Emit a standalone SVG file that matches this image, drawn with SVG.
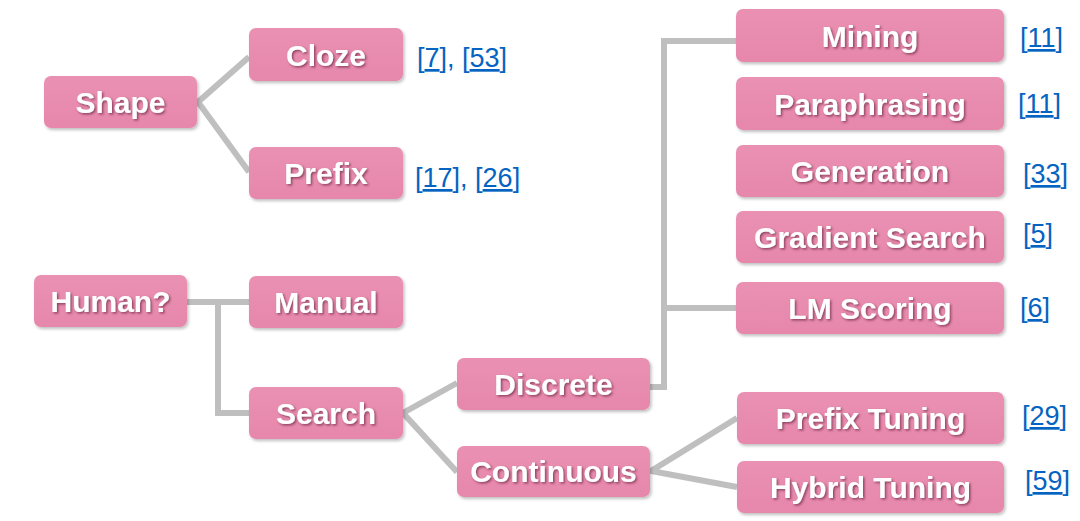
<svg xmlns="http://www.w3.org/2000/svg" width="1080" height="521" viewBox="0 0 1080 521">
<defs>
<filter id="boxsh" x="-10%" y="-20%" width="125%" height="150%">
<feDropShadow dx="1.5" dy="2" stdDeviation="1.5" flood-color="#000" flood-opacity="0.25"/>
</filter>
<filter id="txtsh" x="-10%" y="-20%" width="125%" height="150%">
<feDropShadow dx="1.5" dy="1.5" stdDeviation="1" flood-color="#6a2040" flood-opacity="0.7"/>
</filter>
<linearGradient id="pink" x1="0" y1="0" x2="0" y2="1">
<stop offset="0" stop-color="#EA91B3"/>
<stop offset="1" stop-color="#E687AB"/>
</linearGradient>
</defs>
<style>
.box{fill:url(#pink);filter:url(#boxsh);}
.lbl{font-family:"Liberation Sans",Arial,sans-serif;font-weight:bold;font-size:30px;fill:#fff;text-anchor:middle;filter:url(#txtsh);}
.ref{font-family:"Liberation Sans",Arial,sans-serif;font-size:27px;fill:#0563C1;}
.con{fill:none;stroke:#BFBFBF;stroke-width:6;stroke-linejoin:miter;}
</style>
<rect width="1080" height="521" fill="#fff"/>
<g id="connectors">
<polyline class="con" points="249,57 198,102 249,172"/>
<path class="con" d="M187,302 H249 M218,302 V413 H249"/>
<polyline class="con" points="457,383 403,413 457,472"/>
<path class="con" d="M650,387 H664 V41 H736 M664,308 H736"/>
<polyline class="con" points="737,418 651,471 737,487"/>
</g>
<g id="n-shape"><rect class="box" x="44" y="76" width="153" height="52" rx="7"/><text class="lbl" x="120.5" y="112.5">Shape</text></g>
<g id="n-cloze"><rect class="box" x="249" y="28" width="154" height="53" rx="7"/><text class="lbl" x="326" y="65.5">Cloze</text></g>
<text class="ref" x="417" y="67">[<tspan text-decoration="underline">7</tspan>], [<tspan text-decoration="underline">53</tspan>]</text>
<g id="n-prefix"><rect class="box" x="249" y="147" width="154" height="52" rx="7"/><text class="lbl" x="326" y="183.5">Prefix</text></g>
<text class="ref" x="415" y="187">[<tspan text-decoration="underline">17</tspan>], [<tspan text-decoration="underline">26</tspan>]</text>
<g id="n-human"><rect class="box" x="34" y="275" width="153" height="52" rx="7"/><text class="lbl" x="110.5" y="311.5">Human?</text></g>
<g id="n-manual"><rect class="box" x="249" y="276" width="154" height="52" rx="7"/><text class="lbl" x="326" y="312.5">Manual</text></g>
<g id="n-search"><rect class="box" x="249" y="387" width="154" height="52" rx="7"/><text class="lbl" x="326" y="423.5">Search</text></g>
<g id="n-discrete"><rect class="box" x="457" y="358" width="193" height="52" rx="7"/><text class="lbl" x="553.5" y="394.5">Discrete</text></g>
<g id="n-continuous"><rect class="box" x="457" y="446" width="193" height="51" rx="7"/><text class="lbl" x="553.5" y="482">Continuous</text></g>
<g id="n-mining"><rect class="box" x="736" y="9" width="268" height="53" rx="7"/><text class="lbl" x="870" y="46.5">Mining</text></g>
<text class="ref" x="1020" y="47">[<tspan text-decoration="underline">11</tspan>]</text>
<g id="n-paraphrasing"><rect class="box" x="736" y="77" width="268" height="53" rx="7"/><text class="lbl" x="870" y="114.5">Paraphrasing</text></g>
<text class="ref" x="1018" y="113">[<tspan text-decoration="underline">11</tspan>]</text>
<g id="n-generation"><rect class="box" x="736" y="145" width="268" height="52" rx="7"/><text class="lbl" x="870" y="181.5">Generation</text></g>
<text class="ref" x="1023" y="183">[<tspan text-decoration="underline">33</tspan>]</text>
<g id="n-gradient"><rect class="box" x="736" y="211" width="268" height="52" rx="7"/><text class="lbl" x="870" y="247.5">Gradient Search</text></g>
<text class="ref" x="1023" y="243">[<tspan text-decoration="underline">5</tspan>]</text>
<g id="n-lmscoring"><rect class="box" x="736" y="282" width="268" height="52" rx="7"/><text class="lbl" x="870" y="318.5">LM Scoring</text></g>
<text class="ref" x="1020" y="317">[<tspan text-decoration="underline">6</tspan>]</text>
<g id="n-prefixtuning"><rect class="box" x="737" y="392" width="267" height="52" rx="7"/><text class="lbl" x="870.5" y="428.5">Prefix Tuning</text></g>
<text class="ref" x="1022" y="425">[<tspan text-decoration="underline">29</tspan>]</text>
<g id="n-hybridtuning"><rect class="box" x="737" y="461" width="267" height="52" rx="7"/><text class="lbl" x="870.5" y="497.5">Hybrid Tuning</text></g>
<text class="ref" x="1025" y="490">[<tspan text-decoration="underline">59</tspan>]</text>
</svg>
